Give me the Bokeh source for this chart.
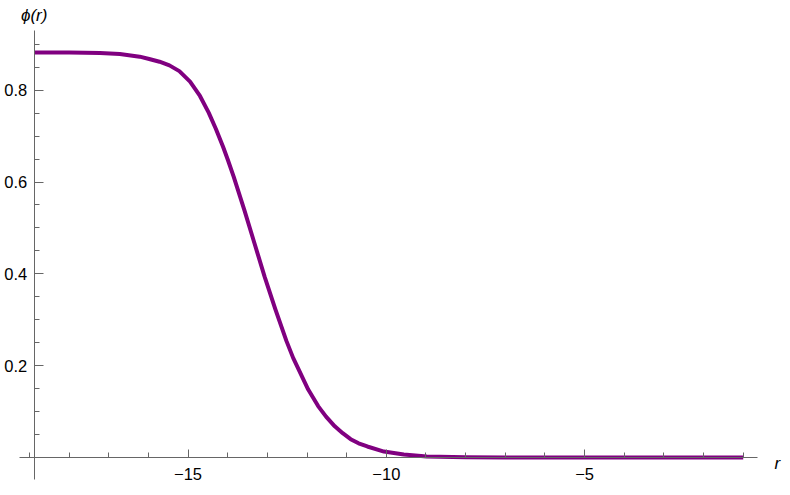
from bokeh.plotting import figure
from bokeh.models import Range1d, FixedTicker, Label, ColumnDataSource
from bokeh.embed import file_html
from bokeh.resources import INLINE

# ---- data ----
r_vals = [-18.88, -18.0, -17.22, -16.72, -16.22, -15.98, -15.72, -15.47, -15.22,
          -14.95, -14.70, -14.48, -14.30, -14.12, -14.00, -13.85, -13.58, -13.32,
          -13.07, -12.80, -12.52, -12.35, -11.97, -11.72, -11.52, -11.30, -11.10,
          -10.90, -10.70, -10.48, -10.06, -9.56, -8.98, -8.0, -7.0, -5.0, -3.0, -1.0]
phi_vals = [0.882, 0.882, 0.881, 0.879, 0.873, 0.868, 0.862, 0.854, 0.8415,
            0.8186, 0.7874, 0.7511, 0.716, 0.6773, 0.6491, 0.6116, 0.5387, 0.465,
            0.394, 0.323, 0.254, 0.217, 0.148, 0.112, 0.089, 0.068, 0.053,
            0.040, 0.031, 0.024, 0.013, 0.0064, 0.0021, 0.0008, 0.0003, 0.0001, 0.0, 0.0]

x_tick_values = [-15, -10, -5]
x_tick_labels = ["\u221215", "\u221210", "\u22125"]
x_minor_ticks = [-19, -18, -17, -16, -14, -13, -12, -11, -9, -8, -7, -6, -4, -3, -2, -1]
y_tick_values = [0.2, 0.4, 0.6, 0.8]
y_tick_labels = ["0.2", "0.4", "0.6", "0.8"]
y_minor_ticks = [0.05, 0.1, 0.15, 0.25, 0.3, 0.35, 0.45, 0.5, 0.55, 0.65, 0.7, 0.75, 0.85, 0.9]

x_label = "r"
y_label = "\u03d5(r)"

# plot range (axis extents) and the view around it
x_axis_bounds = (-19.26, -0.64)
y_axis_bounds = (-0.047, 0.93)

FONT = "Liberation Sans"
AXIS_COLOR = "#666666"

p = figure(width=782, height=487, output_backend="svg", toolbar_location=None,
           x_range=Range1d(-19.730, -0.0095), y_range=Range1d(-0.0653, 0.9953),
           min_border_left=0, min_border_right=0, min_border_top=0, min_border_bottom=0)
p.outline_line_color = None
p.xgrid.visible = False
p.ygrid.visible = False
p.background_fill_color = "white"
p.border_fill_color = "white"

src = ColumnDataSource(dict(r=r_vals, phi=phi_vals))
p.line("r", "phi", source=src, line_color="#800080", line_width=4, line_cap="butt", line_join="round")

# axes crossing Mathematica-style
p.xaxis.fixed_location = 0
p.yaxis.fixed_location = r_vals[0]
p.xaxis.bounds = x_axis_bounds
p.yaxis.bounds = y_axis_bounds

p.xaxis.ticker = FixedTicker(ticks=x_tick_values, minor_ticks=x_minor_ticks)
p.yaxis.ticker = FixedTicker(ticks=y_tick_values, minor_ticks=y_minor_ticks)
p.xaxis.major_label_overrides = {v: l for v, l in zip(x_tick_values, x_tick_labels)}
p.yaxis.major_label_overrides = {v: l for v, l in zip(y_tick_values, y_tick_labels)}

for ax in (p.xaxis, p.yaxis):
    ax.axis_line_color = AXIS_COLOR
    ax.axis_line_width = 1
    ax.major_tick_line_color = AXIS_COLOR
    ax.minor_tick_line_color = AXIS_COLOR
    ax.major_tick_out = 0
    ax.minor_tick_out = 0
    ax.major_label_text_font = FONT
    ax.major_label_text_font_size = "16.5px"
    ax.major_label_text_color = "black"

p.xaxis.major_tick_in = 8
p.xaxis.minor_tick_in = 5
p.yaxis.major_tick_in = 9
p.yaxis.minor_tick_in = 5
p.xaxis.major_label_standoff = 10
p.yaxis.major_label_standoff = 7

p.add_layout(Label(x=x_axis_bounds[1], y=0, x_offset=17, y_offset=-6, text=x_label,
                   text_font=FONT, text_font_style="italic", text_font_size="17px",
                   text_align="left", text_baseline="alphabetic", text_color="black"))
p.add_layout(Label(x=r_vals[0], y=y_axis_bounds[1], y_offset=15, text=y_label,
                   text_font=FONT, text_font_style="italic", text_font_size="17px",
                   text_align="center", text_baseline="alphabetic", text_color="black"))

open("out.html", "w").write(file_html(p, INLINE))
